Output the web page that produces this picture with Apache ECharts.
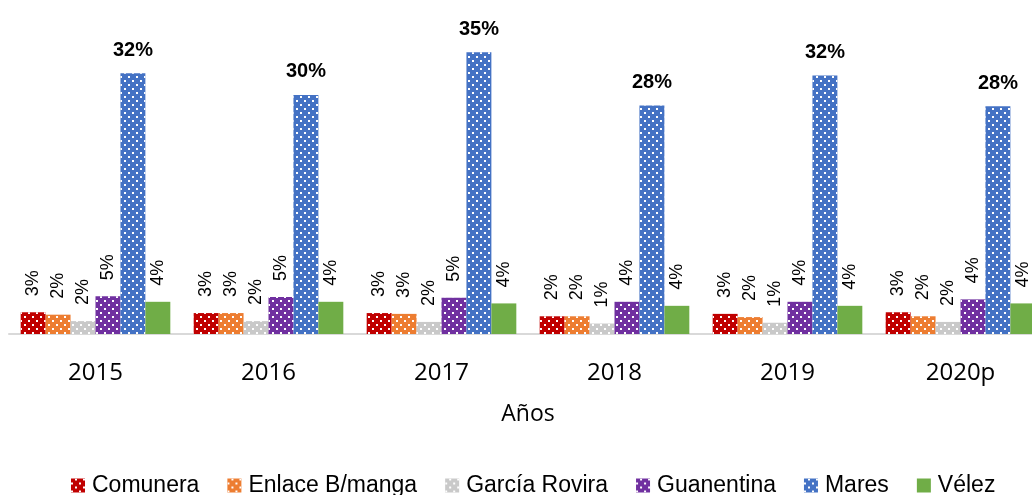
<!DOCTYPE html>
<html>
<head>
<meta charset="utf-8">
<script src="https://cdn.jsdelivr.net/npm/echarts@6/dist/echarts.min.js"></script>
<style>
  html, body { margin: 0; padding: 0; background: #fff; }
  #chart { width: 1032px; height: 495px; }
</style>
</head>
<body>
<div id="chart"></div>
<script>
const years = ['2015', '2016', '2017', '2018', '2019', '2020p']
const seriesNames = ['Comunera', 'Enlace B/manga', 'García Rovira', 'Guanentina', 'Mares', 'Vélez']
const comunera = [2.7, 2.6, 2.6, 2.2, 2.5, 2.7]
const enlace = [2.4, 2.6, 2.5, 2.2, 2.1, 2.2]
const garcia = [1.6, 1.6, 1.5, 1.3, 1.4, 1.5]
const guanentina = [4.7, 4.6, 4.5, 4.0, 4.0, 4.3]
const mares = [32.4, 29.7, 35.0, 28.4, 32.1, 28.3]
const velez = [4.0, 4.0, 3.8, 3.5, 3.5, 3.8]

const colors = ['#C00000', '#ED7D31', '#C9C9C9', '#7030A0', '#4472C4', '#70AD47']
const sans = "'Liberation Sans', Arial, sans-serif"

// white dot pattern used by every series except Vélez
const dots = {
  symbol: 'rect',
  symbolSize: 1,
  color: '#ffffff',
  dashArrayX: [[2, 6], [0, 4, 2, 2]],
  dashArrayY: [2, 2],
}

const pct = (p) => Math.round(p.value) + '%'

const smallLabel = {
  show: true,
  position: 'top',
  rotate: 90,
  align: 'left',
  verticalAlign: 'middle',
  distance: 16,
  formatter: pct,
  color: '#000',
  fontFamily: sans,
  fontSize: 18,
}

function makeBar(idx, data, patterned, label) {
  const itemStyle = { color: colors[idx] }
  if (patterned) itemStyle.decal = dots
  return {
    name: seriesNames[idx],
    type: 'bar',
    data: data,
    barGap: '0%',
    barCategoryGap: '13.5%',
    itemStyle: itemStyle,
    label: label,
  }
}

const chart = echarts.init(document.getElementById('chart'), null, { renderer: 'canvas' })

chart.setOption({
  animation: false,
  backgroundColor: '#fff',
  // the last category runs past the right edge, as in the source picture
  grid: { left: 9, top: 12, width: 1038, height: 322, containLabel: false, outerBoundsMode: 'none' },
  legend: {
    left: 66,
    top: 469,
    itemWidth: 14,
    itemHeight: 14,
    itemGap: 28,
    icon: 'rect',
    textStyle: { color: '#000', fontFamily: sans, fontSize: 23, padding: [0, 0, 0, 2] },
    data: seriesNames,
  },
  xAxis: {
    type: 'category',
    data: years,
    axisLine: { lineStyle: { color: '#D9D9D9', width: 2 } },
    axisTick: { show: false },
    axisLabel: { color: '#000', fontFamily: 'Open Sans', fontSize: 24, margin: 27 },
    name: 'Años',
    nameLocation: 'middle',
    nameGap: 69,
    nameTextStyle: { color: '#000', fontFamily: 'Open Sans', fontSize: 23 },
  },
  yAxis: {
    type: 'value',
    min: 0,
    max: 40,
    show: false,
    splitLine: { show: false },
  },
  series: [
    makeBar(0, comunera, true, smallLabel),
    makeBar(1, enlace, true, smallLabel),
    makeBar(2, garcia, true, smallLabel),
    makeBar(3, guanentina, true, smallLabel),
    makeBar(4, mares, true, {
      show: true,
      position: 'top',
      distance: 13,
      formatter: pct,
      color: '#000',
      fontFamily: sans,
      fontWeight: 'bold',
      fontSize: 20,
    }),
    makeBar(5, velez, false, smallLabel),
  ],
})
</script>
</body>
</html>
